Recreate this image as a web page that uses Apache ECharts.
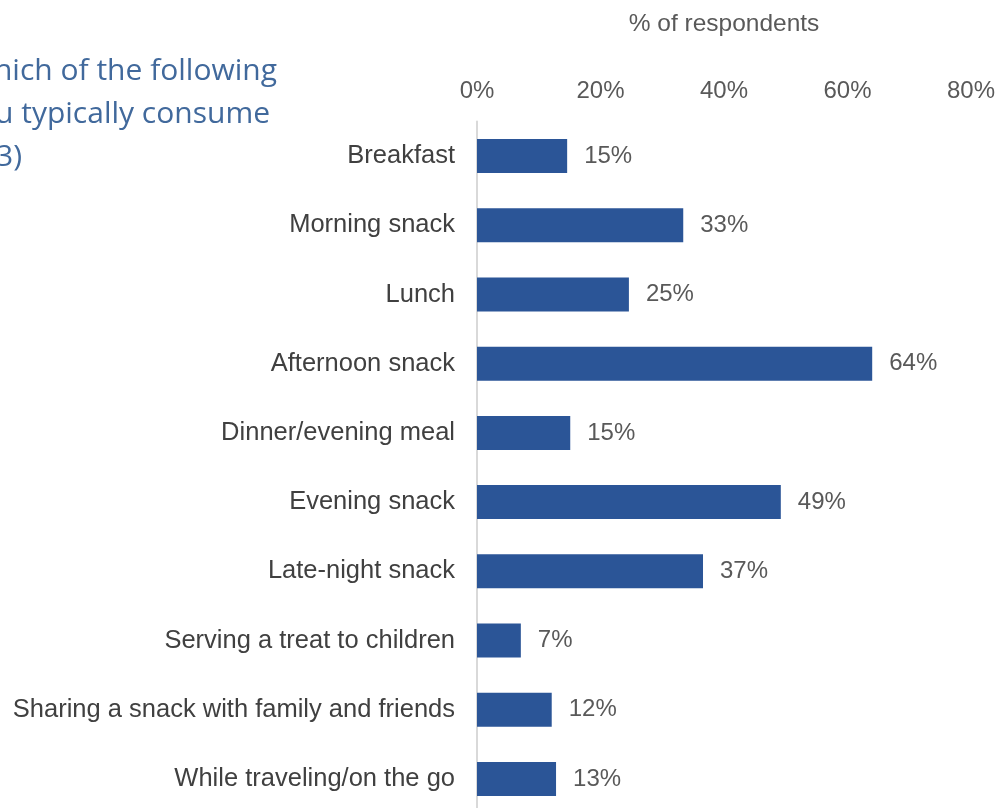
<!DOCTYPE html>
<html><head><meta charset="utf-8">
<script src="https://cdn.jsdelivr.net/npm/echarts@6/dist/echarts.min.js"></script>
<style>html,body{margin:0;padding:0;background:#fff}#c{width:1005px;height:808px}</style>
</head><body><div id="c"></div>
<script>
const categories = ["Breakfast","Morning snack","Lunch","Afternoon snack","Dinner/evening meal","Evening snack","Late-night snack","Serving a treat to children","Sharing a snack with family and friends","While traveling/on the go"];
const values = [14.6, 33.4, 24.6, 64.0, 15.1, 49.2, 36.6, 7.1, 12.1, 12.8];
const tickLabels = ["0%","20%","40%","60%","80%"];
const titleLines = ["hich of the following","u typically consume","3)"];
const axisName = "% of respondents";

const chart = echarts.init(document.getElementById('c'));
const tfont = '30px "Open Sans"';
chart.setOption({
  animation: false,
  grid: {left: 477, width: 494, top: 121.5, height: 692, containLabel: false, outerBoundsMode: 'none'},
  graphic: [
    {type:'text', x: 277, y: 71, style:{text: titleLines[0], font: tfont, fill:'#41699C', align:'right', verticalAlign:'middle'}},
    {type:'text', x: 270, y: 114, style:{text: titleLines[1], font: tfont, fill:'#41699C', align:'right', verticalAlign:'middle'}},
    {type:'text', x: 22, y: 157, style:{text: titleLines[2], font: tfont, fill:'#41699C', align:'right', verticalAlign:'middle'}}
  ],
  xAxis: {
    type: 'value', position: 'top', min: 0, max: 80, interval: 20,
    name: axisName, nameLocation: 'middle', nameGap: 84.5,
    nameTextStyle: {fontFamily: 'Liberation Sans', fontSize: 24.5, color: '#595959'},
    axisLine: {show: false}, axisTick: {show: false}, splitLine: {show: false},
    axisLabel: {margin: 18.5, fontFamily: 'Liberation Sans', fontSize: 24, color: '#595959',
      formatter: v => tickLabels[v/20]}
  },
  yAxis: {
    type: 'category', data: categories, inverse: true,
    axisLine: {show: true, lineStyle: {color: '#D9D9D9', width: 2}},
    axisTick: {show: false},
    axisLabel: {margin: 22, fontFamily: 'Liberation Sans', fontSize: 25.5, color: '#404040'}
  },
  series: [{
    type: 'bar', data: values, barWidth: 34,
    itemStyle: {color: '#2B5597'},
    label: {show: true, position: 'right', distance: 17, fontFamily: 'Liberation Sans', fontSize: 24, color: '#595959',
      formatter: p => Math.round(p.value) + '%'}
  }]
});
</script></body></html>
